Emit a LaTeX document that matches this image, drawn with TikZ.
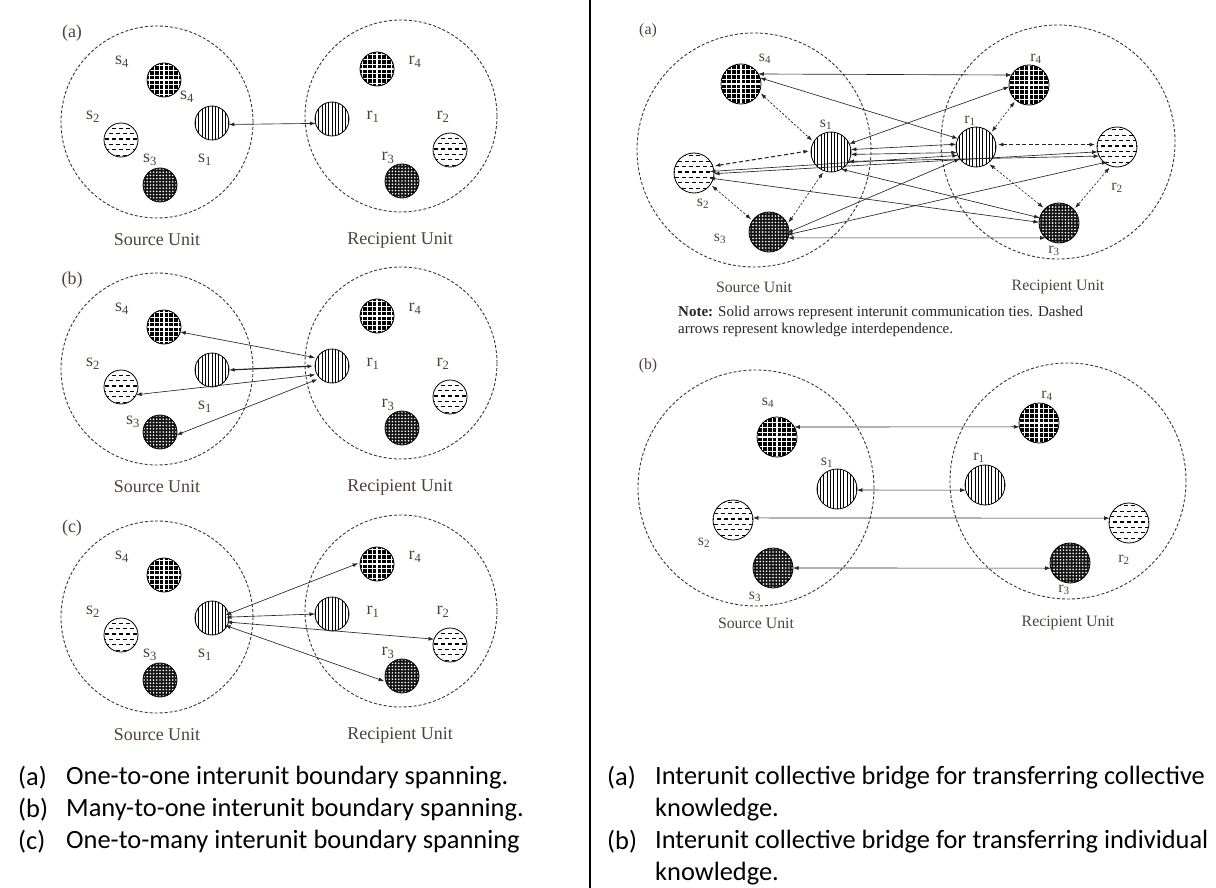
\documentclass[tikz,border=0pt]{standalone}
\usepackage{fontspec}
\setmainfont{Liberation Serif}
\newfontfamily\capfont{Carlito}
\usetikzlibrary{arrows.meta}
\definecolor{labc}{RGB}{80,66,58}
\definecolor{circc}{RGB}{55,55,55}
\tikzset{
  ball/.style={circle, draw=black, line width=0.8pt, minimum size=#1, inner sep=0pt, outer sep=0pt},
  chk/.style={ball=#1, fill=black, path picture={
     \foreach \k in {-5,...,5}{
       \draw[white, line width=1.2pt] ([xshift=\k*4.8pt, yshift=-30pt]path picture bounding box.center) -- ++(0pt,60pt);
       \draw[white, line width=1.2pt] ([xshift=-30pt, yshift=\k*4.8pt]path picture bounding box.center) -- ++(60pt,0pt);}}},
  vstr/.style={ball=#1, fill=white, path picture={
     \foreach \k in {-8,...,8}{
       \draw[black, line width=0.65pt] ([xshift=\k*3.3pt, yshift=-30pt]path picture bounding box.center) -- ++(0pt,60pt);}}},
  hdsh/.style={ball=#1, fill=white, path picture={
     \foreach \k in {-4,-2,...,4}{
       \draw[black, line width=1.1pt, dash pattern=on 4pt off 3pt] ([xshift=-30pt, yshift=\k*5.4pt+1pt]path picture bounding box.center) -- ++(60pt,0pt);}
     \foreach \k in {-3,-1,...,3}{
       \draw[black, line width=1.1pt, dash pattern=on 4pt off 3pt, dash phase=3.5pt] ([xshift=-30pt, yshift=\k*5.4pt+1pt]path picture bounding box.center) -- ++(60pt,0pt);}}},
  ddot/.style={ball=#1, fill=black!92, path picture={
     \foreach \i in {-6,...,6}{\foreach \j in {-6,...,6}{
       \fill[white] ([xshift=\i*3.2pt, yshift=\j*3.2pt]path picture bounding box.center) circle (0.9pt);}}}},
  unitc/.style={circle, draw=circc, line width=0.9pt, dash pattern=on 3pt off 2pt, inner sep=0pt},
  lab/.style={font=\fontsize{18}{20}\selectfont, text=labc, inner sep=0pt},
  rlab/.style={font=\fontsize{15.8}{17}\selectfont, text=labc, inner sep=0pt},
  unitlab/.style={font=\fontsize{18}{20}\selectfont, text=labc, inner sep=0pt},
  runitlab/.style={font=\fontsize{15.8}{17}\selectfont, text=labc, inner sep=0pt},
  notetxt/.style={font=\fontsize{15}{17}\selectfont, text=black!85, inner sep=0pt, anchor=west},
  captxt/.style={font=\capfont\fontsize{26.4}{30}\selectfont, inner sep=0pt, anchor=west},
  arr/.style={{Latex[length=5.5pt,width=4pt]}-{Latex[length=5.5pt,width=4pt]}, line width=0.65pt, draw=black!85},
  darr/.style={arr, dash pattern=on 2.2pt off 1.8pt, shorten <=2pt, shorten >=2pt},
  tdarr/.style={arr, line width=1.1pt, dash pattern=on 4pt off 2.5pt, shorten <=2pt, shorten >=2pt},
}
\newcommand{\lnodes}[1]{%
  \node[unitc, minimum size=192pt] (#1SU) at (157,122) {};
  \node[unitc, minimum size=192pt] (#1RU) at (401,116) {};
  \node[chk=34pt] (#1s4) at (164,80) {};
  \node[vstr=34pt] (#1s1) at (212,123) {};
  \node[hdsh=34pt] (#1s2) at (121,140) {};
  \node[ddot=34pt] (#1s3) at (160,185) {};
  \node[chk=34pt] (#1r4) at (377,69) {};
  \node[vstr=34pt] (#1r1) at (332,119) {};
  \node[hdsh=34pt] (#1r2) at (450,150) {};
  \node[ddot=34pt] (#1r3) at (402,181) {};
  \node[unitlab] (#1su) at (157,240) {Source Unit};
  \node[unitlab] (#1ru) at (400,240) {Recipient Unit};
  \node[lab] (#1l4) at (122,62) {s\textsubscript{4}};
  \node[lab] (#1l2) at (93,117) {s\textsubscript{2}};
  \node[lab] (#1l1) at (205,160) {s\textsubscript{1}};
  \node[lab] (#1m4) at (415,62) {r\textsubscript{4}};
  \node[lab] (#1m1) at (373,117) {r\textsubscript{1}};
  \node[lab] (#1m2) at (443,117) {r\textsubscript{2}};
  \node[lab] (#1m3) at (388,158) {r\textsubscript{3}};
}
\begin{document}
\begin{tikzpicture}[x=1pt,y=-1pt]
\useasboundingbox (0,0) rectangle (1216,888);
\fill[white] (0,0) rectangle (1216,888);
% separator
\coordinate (sepT) at (590,0);
\coordinate (sepB) at (590,888);
\draw[line width=1.7pt] (sepT) -- (sepB);

% ---------- left (a)
\begin{scope}
\lnodes{a}
\node[lab] (apl) at (72,33) {(a)};
\node[lab] (al4b) at (187,97) {s\textsubscript{4}};
\node[lab] (al3) at (150,160) {s\textsubscript{3}};
\draw[arr] (as1.-5) -- (ar1.195);
\end{scope}

% ---------- left (b)
\begin{scope}[yshift=-247pt]
\lnodes{b}
\node[lab] (bpl) at (72,33) {(b)};
\node[lab] (bl3) at (133,175) {s\textsubscript{3}};
\draw[arr, shorten >=2pt] (bs4.-17) -- (br1.152);
\draw[arr, line width=1.2pt, shorten >=2pt] (bs1.0) -- (br1.180);
\draw[arr, shorten >=2pt] (bs2.-27) -- (br1.210);
\draw[arr, shorten >=3pt] (bs3.-10) -- (br1.226);
\end{scope}

% ---------- left (c)
\begin{scope}[yshift=-495pt]
\lnodes{c}
\node[lab] (cpl) at (72,33) {(c)};
\node[lab] (cl3) at (150,160) {s\textsubscript{3}};
\draw[arr, shorten <=-3pt, shorten >=2pt] (cs1.14) -- (cr4.175);
\draw[arr, shorten <=-3pt] (cs1.3) -- (cr1.180);
\draw[arr, shorten <=-2pt] (cs1.-14) -- (cr2.160);
\draw[arr, shorten <=-2pt, shorten >=2pt] (cs1.-28) -- (cr3.200);
\end{scope}

% ---------- right (a)
\node[rlab] (Apl) at (648,31) {(a)};
\node[unitc, minimum size=234pt] (ASU) at (754,150) {};
\node[unitc, minimum size=234pt] (ARU) at (1058,142) {};
\node[chk=40pt] (As4) at (741,84) {};
\node[vstr=40pt] (As1) at (831,152) {};
\node[hdsh=40pt] (As2) at (694,173) {};
\node[ddot=40pt] (As3) at (769,232) {};
\node[chk=40pt] (Ar4) at (1029,85) {};
\node[vstr=40pt] (Ar1) at (976,147) {};
\node[hdsh=40pt] (Ar2) at (1117,147) {};
\node[ddot=40pt] (Ar3) at (1059,223) {};
\node[rlab] (Al4) at (765,59) {s\textsubscript{4}};
\node[rlab] (Al1) at (826,125) {s\textsubscript{1}};
\node[rlab] (Al2) at (703,204) {s\textsubscript{2}};
\node[rlab] (Al3) at (720,239) {s\textsubscript{3}};
\node[rlab] (Am4) at (1036,59) {r\textsubscript{4}};
\node[rlab] (Am1) at (970,121) {r\textsubscript{1}};
\node[rlab] (Am2) at (1117,188) {r\textsubscript{2}};
\node[rlab] (Am3) at (1054,251) {r\textsubscript{3}};
\node[runitlab] (Asu) at (754,287) {Source Unit};
\node[runitlab] (Aru) at (1058,287) {Recipient Unit};
\node[notetxt] (An1) at (678,313) {\textbf{Note:} Solid arrows represent interunit communication ties. Dashed};
\node[notetxt] (An2) at (678,330) {arrows represent knowledge interdependence.};
% solid ties
\draw[arr] (As4.30) -- (Ar4.150);
\draw[arr] (As4.18) -- (Ar1.155);
\draw[arr] (As1.24) -- (Ar4.185);
\draw[arr] (As1.7) -- (Ar1.172);
\draw[arr] (As1.-7) -- (Ar1.196);
\draw[arr, shorten <=-4pt] (As2.5) -- (Ar1.205);
\draw[arr] (As2.-2) -- (Ar2.194);
\draw[arr] (As1.-28) -- (Ar2.207);
\draw[arr, shorten <=-4pt] (As2.-16) -- (Ar3.178);
\draw[arr] (As1.-59) -- (Ar3.165);
\draw[arr, shorten <=-2pt] (As3.0) -- (Ar1.216);
\draw[arr, shorten <=-2pt, shorten >=-3pt] (As3.-7) -- (Ar2.231);
\draw[arr] (As3.-17) -- (Ar3.228);
% knowledge interdependence
\draw[darr] (As4.-24) -- (As1.150);
\draw[tdarr] (As2.20) -- (As1.176);
\draw[darr] (As2.-35) -- (As3.145);
\draw[darr] (As1.250) -- (As3.23);
\draw[darr] (Ar4.229) -- (Ar1.43);
\draw[tdarr] (Ar1.7) -- (Ar2.173);
\draw[darr] (Ar1.-53) -- (Ar3.135);
\draw[darr] (Ar2.252) -- (Ar3.42);

% ---------- right (b)
\node[rlab] (Bpl) at (648,366) {(b)};
\node[unitc, minimum size=236pt] (BSU) at (756,488) {};
\node[unitc, minimum size=236pt] (BRU) at (1068,481) {};
\node[chk=40pt] (Bs4) at (777,437) {};
\node[vstr=40pt] (Bs1) at (837,489) {};
\node[hdsh=40pt] (Bs2) at (733,520) {};
\node[ddot=40pt] (Bs3) at (773,568) {};
\node[chk=40pt] (Br4) at (1039,423) {};
\node[vstr=40pt] (Br1) at (985,485) {};
\node[hdsh=40pt] (Br2) at (1129,523) {};
\node[ddot=40pt] (Br3) at (1070,563) {};
\node[rlab] (Bl4) at (768,403) {s\textsubscript{4}};
\node[rlab] (Bl1) at (827,463) {s\textsubscript{1}};
\node[rlab] (Bl2) at (704,543) {s\textsubscript{2}};
\node[rlab] (Bl3) at (755,597) {s\textsubscript{3}};
\node[rlab] (Bm4) at (1047,396) {r\textsubscript{4}};
\node[rlab] (Bm1) at (979,458) {r\textsubscript{1}};
\node[rlab] (Bm2) at (1124,560) {r\textsubscript{2}};
\node[rlab] (Bm3) at (1064,590) {r\textsubscript{3}};
\node[runitlab] (Bsu) at (756,623) {Source Unit};
\node[runitlab] (Bru) at (1068,623) {Recipient Unit};
\draw[arr] (Bs4.30) -- (Br4.191);
\draw[arr] (Bs1.-3) -- (Br1.195);
\draw[arr] (Bs2.6) -- (Br2.166);
\draw[arr] (Bs3.0) -- (Br3.195);

% ---------- captions
\node[captxt] (cla) at (18,778) {(a)};
\node[captxt] (clat) at (66,778) {One-to-one interunit boundary spanning.};
\node[captxt] (clb) at (18,810) {(b)};
\node[captxt] (clbt) at (66,810) {Many-to-one interunit boundary spanning.};
\node[captxt] (clc) at (18,842) {(c)};
\node[captxt] (clct) at (66,842) {One-to-many interunit boundary spanning};
\node[captxt] (cra) at (607,778) {(a)};
\node[captxt] (crat) at (655,778) {Interunit collective bridge for transferring collective};
\node[captxt] (crat2) at (655,810) {knowledge.};
\node[captxt] (crb) at (607,842) {(b)};
\node[captxt] (crbt) at (655,842) {Interunit collective bridge for transferring individual};
\node[captxt] (crbt2) at (655,874) {knowledge.};
\end{tikzpicture}
\end{document}
